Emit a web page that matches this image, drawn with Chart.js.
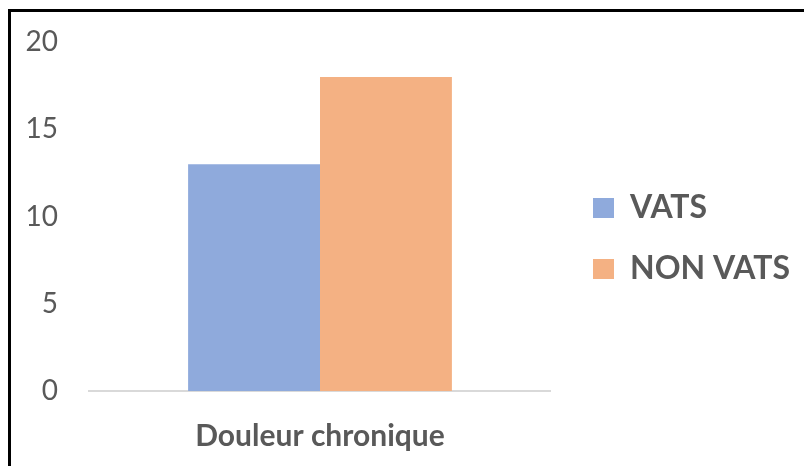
<!DOCTYPE html>
<html>
<head>
<meta charset="utf-8">
<script src="https://cdn.jsdelivr.net/npm/chart.js@4/dist/chart.umd.min.js"></script>
<style>
  html, body { margin: 0; padding: 0; background: #fff; overflow: hidden; }
  #frame { position: absolute; left: 8px; top: 9px; width: 900px; height: 600px;
           border-top: 3px solid #000; border-left: 3px solid #000; }
  #wrap { position: absolute; left: 0; top: 0; width: 804px; height: 466px; }
</style>
</head>
<body>
<div id="frame"></div>
<div id="wrap"><canvas id="c"></canvas></div>
<script>
const categories = ["Douleur chronique"];
const seriesNames = ["VATS", "NON VATS"];
const vatsValues = [13];
const nonVatsValues = [18];
const yTicks = [0, 5, 10, 15, 20];

const FONT = "Lato, 'Open Sans', sans-serif";
const TEXT = "#595959";

function draw() {
  new Chart(document.getElementById("c"), {
    type: "bar",
    data: {
      labels: categories,
      datasets: [
        { label: seriesNames[0], data: vatsValues, backgroundColor: "#8faadc", borderWidth: 0,
          categoryPercentage: 0.571, barPercentage: 1, xAxisID: "x", yAxisID: "y" },
        { label: seriesNames[1], data: nonVatsValues, backgroundColor: "#f4b183", borderWidth: 0,
          categoryPercentage: 0.571, barPercentage: 1, xAxisID: "x", yAxisID: "y" }
      ]
    },
    options: {
      responsive: true,
      maintainAspectRatio: false,
      animation: false,
      devicePixelRatio: 1,
      layout: { padding: { left: 26, top: 24, right: 4, bottom: 13 } },
      plugins: {
        tooltip: { enabled: false },
        legend: {
          position: "right",
          maxWidth: 400,
          labels: {
            boxWidth: 21, boxHeight: 20, padding: 29,
            color: TEXT,
            font: { family: FONT, size: 32, weight: "bold" }
          }
        }
      },
      scales: {
        x: {
          grid: { display: false, drawTicks: false },
          border: { display: true, color: "#d9d9d9", width: 2 },
          ticks: { color: TEXT, padding: 27, font: { family: FONT, size: 30, weight: "bold" } },
          afterFit: (s) => { s.height = 62; s.paddingLeft = 0; s.paddingRight = 0; }
        },
        gapTop: {
          type: "linear",
          position: "top",
          display: true,
          grid: { display: false, drawTicks: false },
          border: { display: false },
          ticks: { display: false },
          afterFit: (s) => { s.height = 18; s.paddingLeft = 0; s.paddingRight = 0; }
        },
        y: {
          min: 0, max: 20,
          afterBuildTicks: (s) => { s.ticks = yTicks.map(v => ({ value: v })); },
          afterFit: (s) => { s.width = 63; s.paddingTop = 0; s.paddingBottom = 0; },
          grid: { display: false, drawTicks: false },
          border: { display: false },
          ticks: { color: TEXT, padding: 31, font: { family: FONT, size: 28 } }
        },
        gap: {
          type: "linear",
          position: "right",
          display: true,
          grid: { display: false, drawTicks: false },
          border: { display: false },
          ticks: { display: false },
          afterFit: (s) => { s.width = 13; s.paddingTop = 0; s.paddingBottom = 0; }
        }
      }
    }
  });
}

if (document.fonts && document.fonts.load) {
  Promise.all([
    document.fonts.load("bold 32px Lato"),
    document.fonts.load("28px Lato")
  ]).then(draw, draw);
} else {
  draw();
}
</script>
</body>
</html>
